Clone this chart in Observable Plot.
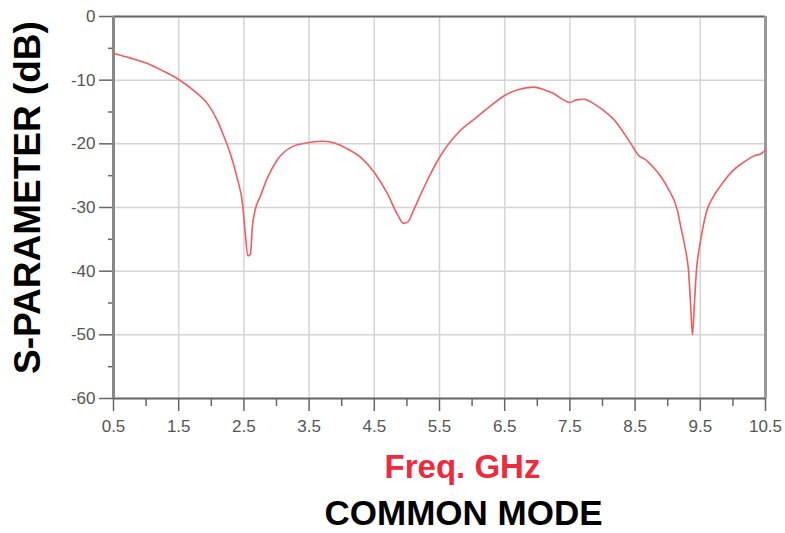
<!DOCTYPE html>
<html>
<head>
<meta charset="utf-8">
<script src="https://cdn.jsdelivr.net/npm/d3@7"></script>
<script src="https://cdn.jsdelivr.net/npm/@observablehq/plot@0.6"></script>
<style>
  body { margin: 0; background: white; }
</style>
</head>
<body>
<div id="chart"></div>
<script>
const freq = [0.5, 0.75, 1.0, 1.25, 1.5, 1.75, 1.95, 2.1, 2.2, 2.3, 2.4, 2.48, 2.52, 2.56, 2.6, 2.63, 2.67, 2.75, 2.85, 3.0,
  3.25, 3.5, 3.72, 3.9, 4.05, 4.3, 4.5, 4.7, 4.85, 4.95, 5.02, 5.1, 5.2, 5.32, 5.52, 5.82, 6.0, 6.24, 6.5, 6.7,
  6.94, 7.1, 7.25, 7.4, 7.5, 7.6, 7.72, 7.85, 8.02, 8.2, 8.32, 8.45, 8.55, 8.65, 8.78, 8.9, 9.0, 9.15, 9.2, 9.27,
  9.32, 9.35, 9.38, 9.41, 9.44, 9.5, 9.6, 9.7, 9.81, 10.0, 10.15, 10.32, 10.42, 10.5];
const sparam = [-5.8, -6.5, -7.3, -8.5, -9.9, -11.8, -13.8, -16.5, -19, -21.8, -25.5, -29.5, -34, -37.6, -37.3, -33, -30.5, -28.3, -25.6, -22.7,
  -20.4, -19.8, -19.6, -19.9, -20.6, -22.2, -24.5, -27.8, -31, -32.5, -32.2, -30.5, -28.2, -25.6, -21.8, -17.9, -16.4, -14.4, -12.4, -11.5,
  -11.1, -11.5, -12.1, -13.1, -13.5, -13.1, -13.0, -13.6, -14.8, -16.5, -18.2, -20.2, -21.8, -22.4, -23.7, -25.2, -26.9, -30.5, -33, -36.5,
  -40, -45, -50, -45, -40, -35.5, -30.5, -28.3, -26.6, -24.2, -23, -21.9, -21.6, -21];

const xTicks = [0.5, 1.5, 2.5, 3.5, 4.5, 5.5, 6.5, 7.5, 8.5, 9.5, 10.5];
const xMinor = [1, 2, 3, 4, 5, 6, 7, 8, 9, 10];
const yTicks = [0, -10, -20, -30, -40, -50, -60];
const yMinor = [-5, -15, -25, -35, -45, -55];
const yTitle = ["S-PARAMETER (dB)"];
const xTitle = ["Freq. GHz"];
const caption = ["COMMON MODE"];

const rows = freq.map((f, i) => ({f, v: sparam[i]}));

const chart = Plot.plot({
  width: 785,
  height: 533,
  marginLeft: 113,
  marginRight: 20,
  marginTop: 16,
  marginBottom: 135,
  style: {fontFamily: "'Liberation Sans', Arial, sans-serif", color: "#555", background: "white"},
  x: {domain: [0.5, 10.5], label: null},
  y: {domain: [-60, 0], label: null},
  marks: [
    Plot.gridX({ticks: xTicks, stroke: "#d4d4d4", strokeOpacity: 1, strokeWidth: 1.5}),
    Plot.gridY({ticks: yTicks, stroke: "#d4d4d4", strokeOpacity: 1, strokeWidth: 1.5}),
    Plot.axisX({ticks: xTicks, tickSize: 13, tickPadding: 8, fontSize: 17, stroke: "#666", strokeWidth: 1.5, fill: "#555", tickFormat: d => String(d), label: null}),
    Plot.axisX({ticks: xMinor, tickSize: 8, stroke: "#666", strokeWidth: 1.5, tickFormat: () => "", label: null}),
    Plot.axisY({ticks: yTicks, tickSize: 14, tickPadding: 4, fontSize: 17, stroke: "#666", strokeWidth: 1.5, fill: "#555", tickFormat: d => String(d), label: null}),
    Plot.axisY({ticks: yMinor, tickSize: 5, stroke: "#666", strokeWidth: 1.5, tickFormat: () => "", label: null}),
    Plot.ruleY([0], {stroke: "#666", strokeWidth: 2}),
    Plot.ruleX([10.5], {stroke: "#999", strokeWidth: 3}),
    Plot.ruleY([-60], {stroke: "#666", strokeWidth: 2}),
    Plot.ruleX([0.5], {stroke: "#888", strokeWidth: 3}),
    Plot.line(rows, {x: "f", y: "v", stroke: "#f35b5e", strokeWidth: 1.6, curve: "monotone-x"}),
    Plot.text(yTitle, {text: d => d, frameAnchor: "left", textAnchor: "middle", lineAnchor: "middle", dx: -85, dy: -10, rotate: -90, fontSize: 37, fontWeight: "bold", fill: "black"}),
    Plot.text(xTitle, {text: d => d, frameAnchor: "bottom", lineAnchor: "middle", dx: 23, dy: 69, fontSize: 33, fontWeight: "bold", fill: "#ee2a3c"}),
    Plot.text(caption, {text: d => d, frameAnchor: "bottom", lineAnchor: "middle", dx: 24, dy: 115, fontSize: 35, fontWeight: "bold", fill: "black"})
  ]
});
document.getElementById("chart").appendChild(chart);
</script>
</body>
</html>
